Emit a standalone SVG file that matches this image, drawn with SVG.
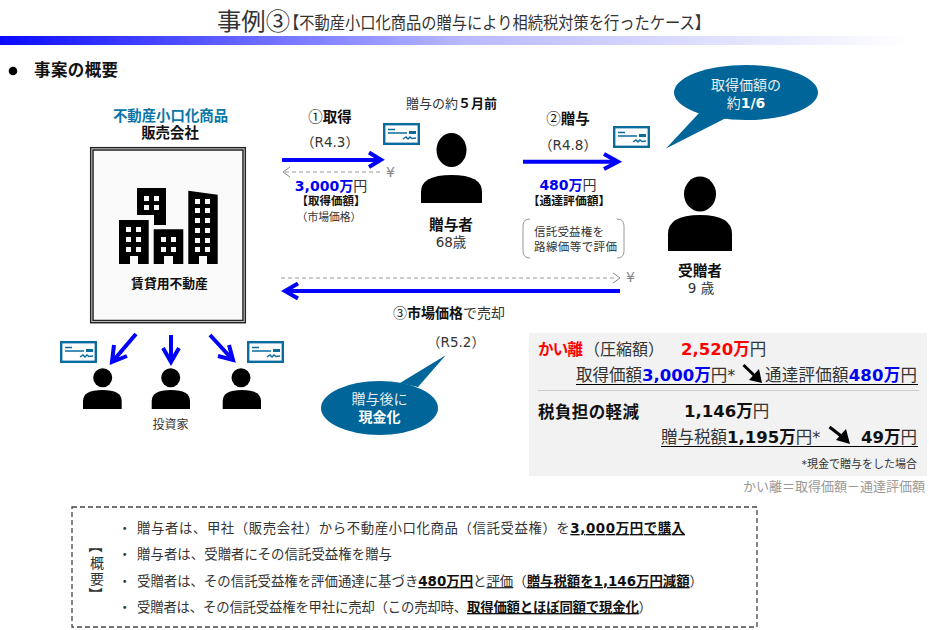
<svg xmlns="http://www.w3.org/2000/svg" xmlns:xlink="http://www.w3.org/1999/xlink" width="929" height="630" viewBox="0 0 929 630">
<style>
text{font-family:"DejaVu Sans","Noto Sans CJK JP",sans-serif;fill:#333;font-size:13px}
.cjk{font-family:"Noto Sans CJK JP",sans-serif}
.c{text-anchor:middle}.e{text-anchor:end}
.b{font-weight:700;fill:#111}
.blue{font-weight:700;fill:#0000f0}
.red{font-weight:700;fill:#f00}
.w{fill:#e8eef2;font-size:14px}
.wb{fill:#fff;font-weight:700;font-size:14px}
.u{text-decoration:underline}
.p{font-size:16.5px}
.arrow{fill:none;stroke:#0000ff;stroke-width:4}
.dash{fill:none;stroke:#999;stroke-width:1;stroke-dasharray:4 3}
.dashhead{fill:none;stroke:#888;stroke-width:1}
.blk{fill:none;stroke:#000;stroke-width:3}
.person{fill:#000}
.win{fill:#fafafa}
.yen{fill:#888;font-size:14px}
.s{font-size:13.4px}
.v{font-size:14px;text-anchor:middle;dominant-baseline:central}
</style>
<defs>
<linearGradient id="bar" x1="0" x2="1" y1="0" y2="0"><stop offset="0" stop-color="#0a0aff"/><stop offset="0.5" stop-color="#b9b9ff"/><stop offset="0.98" stop-color="#fff"/></linearGradient>
<g id="check">
<rect x="1.2" y="1.2" width="34.6" height="19.6" fill="#fff" stroke="#0a6b9e" stroke-width="2.4"/>
<path d="M5 6.500H12M5 10H24" stroke="#0a6b9e" stroke-width="1.3" fill="none"/>
<rect x="26" y="8" width="7" height="3" fill="#0a6b9e"/>
<path d="M20 16L23 14L25 16L27 14L29 15.500L33 15" stroke="#0a6b9e" stroke-width="1.5" fill="none"/>
</g>
</defs>
<g id="header">
<text class="cjk" x="217" y="30" style="font-size:24px" textLength="73" lengthAdjust="spacingAndGlyphs">事例③</text>
<text class="cjk" x="284" y="29" style="font-size:17px" textLength="426" lengthAdjust="spacingAndGlyphs">【不動産小口化商品の贈与により相続税対策を行ったケース】</text>
<rect x="0" y="36" width="929" height="9" fill="url(#bar)"/>
<circle cx="13" cy="71" r="4.3" fill="#000"/>
<text class="b" x="34" y="76" style="font-size:16.5px" textLength="84">事案の概要</text>
</g>
<g id="seller">
<text class="c" x="170.500" y="121" style="font-size:14.4px;font-weight:700;fill:#0a76a8">不動産小口化商品</text>
<text class="c b" x="170" y="138" style="font-size:14.4px">販売会社</text>
<rect x="90.700" y="147.700" width="154.600" height="175" fill="#fafafa" stroke="#222" stroke-width="1.5"/>
<rect x="93" y="150" width="150" height="170.500" fill="#fafafa" stroke="#222" stroke-width="1.5"/>
<path d="M137 188H166V225H154V215H137Z"/>
<path d="M119 220H148.700V264H138V256H130V264H119Z"/>
<path d="M153.700 229.300H183.300V264H173V256H164V264H153.700Z"/>
<path d="M188.300 190.700L217.700 194.700V264H207V256H199V264H188.300Z"/>
<path class="win" d="M144 196h5v5h-5zM154 196h5v5h-5zM144 205h5v5h-5zM154 205h5v5h-5zM126 227h5v5h-5zM136 227h5v5h-5zM126 237h5v5h-5zM136 237h5v5h-5zM126 247h5v5h-5zM136 247h5v5h-5zM161 237h5v5h-5zM171 237h5v5h-5zM161 247h5v5h-5zM171 247h5v5h-5zM195 199h5v5h-5zM205 199h5v5h-5zM195 208h5v5h-5zM205 208h5v5h-5zM195 218h5v5h-5zM205 218h5v5h-5zM195 228h5v5h-5zM205 228h5v5h-5zM195 238h5v5h-5zM205 238h5v5h-5zM195 247h5v5h-5zM205 247h5v5h-5z"/>
<text class="c b" x="169.500" y="288" style="font-size:12.800px">賃貸用不動産</text>
</g>
<g id="donor">
<text x="406" y="108" textLength="91" style="font-size:13px">贈与の約<tspan class="b">５月前</tspan></text>
<ellipse class="person" cx="451.500" cy="150" rx="15" ry="17"/>
<path class="person" d="M421 203V192Q421 175 451.500 175Q482 175 482 192V203Z"/>
<text class="c b" x="451" y="230" style="font-size:14.700px">贈与者</text>
<text class="c" x="451" y="247" style="font-size:13.500px">68歳</text>
</g>
<g id="recipient">
<ellipse class="person" cx="700" cy="194" rx="16" ry="17.500"/>
<path class="person" d="M668 251V234Q668 215 700 215Q732 215 732 234V251Z"/>
<text class="c b" x="700" y="276" style="font-size:14.700px">受贈者</text>
<text class="c" x="701" y="293" style="font-size:13.500px">9 歳</text>
</g>
<g id="investors">
<circle class="person" cx="102.700" cy="377.700" r="9.500"/><path class="person" d="M83 409V401Q83 390 102.500 390Q121.700 390 121.700 401V409Z"/>
<circle class="person" cx="170.700" cy="377.700" r="9.500"/><path class="person" d="M151.700 409V401Q151.700 390 171 390Q190 390 190 401V409Z"/>
<circle class="person" cx="241" cy="377.700" r="9.500"/><path class="person" d="M222.700 409V401Q222.700 390 242 390Q261 390 261 401V409Z"/>
<text class="c" x="170.500" y="429" style="font-size:12px">投資家</text>
</g>
<g id="checks">
<use xlink:href="#check" href="#check" x="383" y="123"/>
<use xlink:href="#check" href="#check" x="613" y="126"/>
<use xlink:href="#check" href="#check" x="60" y="341"/>
<use xlink:href="#check" href="#check" x="247" y="341"/>
</g>
<g id="acquire-label">
<text class="c b" x="330" y="122" style="font-size:14.500px"><tspan class="cjk" style="font-weight:400">①</tspan>取得</text>
<text class="c" x="330" y="147" style="font-size:13.500px">（R4.3）</text>
<text class="c" x="331" y="191" style="font-size:14px"><tspan class="blue">3,000万</tspan>円</text>
<text class="c b" x="331" y="205" style="font-size:11.500px">【取得価額】</text>
<text class="c" x="329" y="221" style="font-size:10.800px">（市場価格）</text>
</g>
<g id="gift-label">
<text class="c b" x="568" y="124" style="font-size:14.500px"><tspan class="cjk" style="font-weight:400">②</tspan>贈与</text>
<text class="c" x="568" y="150" style="font-size:13.500px">（R4.8）</text>
<text class="c" x="568" y="190" style="font-size:14px"><tspan class="blue">480万</tspan>円</text>
<text class="c b" x="569" y="205" style="font-size:11.800px">【通達評価額】</text>
<path d="M530 219Q523 219 523 226V251Q523 258 530 258M617 219Q624 219 624 226V251Q624 258 617 258" fill="none" stroke="#999" stroke-width="1"/>
<text x="534" y="236" style="font-size:11.500px" textLength="70">信託受益権を</text>
<text x="534" y="251" style="font-size:11.500px" textLength="83">路線価等で評価</text>
</g>
<g id="sale-label">
<text x="393" y="318" textLength="112" style="font-size:14px"><tspan class="cjk">③</tspan><tspan class="b">市場価格</tspan>で売却</text>
<text class="c" x="456" y="347" style="font-size:13.500px">（R5.2）</text>
</g>
<g id="callout-1-6">
<ellipse cx="746" cy="92.500" rx="72" ry="27.500" fill="#006699"/>
<path d="M700 112L666 148.500L726 118Z" fill="#006699"/>
<text class="c w" x="746" y="90">取得価額の</text>
<text class="c w" x="746" y="108">約<tspan class="wb">1/6</tspan></text>
</g>
<g id="callout-cash">
<ellipse cx="379.500" cy="408" rx="58.500" ry="27" fill="#006699"/>
<path d="M400 383L445.700 355.300L418 387Z" fill="#006699"/>
<text class="c w" x="379.500" y="404">贈与後に</text>
<text class="c wb" x="379.500" y="422">現金化</text>
</g>
<g id="result-panel">
<rect x="529" y="333" width="398" height="143" fill="#f2f2f2"/>
<text class="red" x="538" y="355" style="font-size:15.500px" textLength="45">かい離</text>
<text class="p" x="584" y="355" style="font-size:16px">（圧縮額）</text>
<text class="p" x="681" y="355"><tspan class="red">2,520万</tspan>円</text>
<text class="p" x="576" y="381">取得価額<tspan class="blue">3,000万</tspan>円<tspan style="font-size:16px">*</tspan></text>
<text class="p" x="765" y="381" textLength="152">通達評価額<tspan class="blue">480万</tspan>円</text>
<path d="M576 384.500H918" stroke="#000" stroke-width="1"/>
<path d="M538 390.500H919" stroke="#ccc" stroke-width="1"/>
<text class="b p" x="538" y="418" textLength="101">税負担の軽減</text>
<text class="p" x="684" y="417"><tspan class="b">1,146万</tspan>円</text>
<text class="p" x="661" y="443">贈与税額<tspan class="b">1,195万</tspan>円<tspan style="font-size:16px">*</tspan></text>
<text class="p e" x="917" y="443"><tspan class="b">49万</tspan>円</text>
<path d="M661 446.500H918" stroke="#000" stroke-width="1"/>
<text class="e" x="917" y="468" style="font-size:11px">*現金で贈与をした場合</text>
<text class="e" x="925" y="491" style="font-size:13px;fill:#999">かい離＝取得価額－通達評価額</text>
</g>
<g id="connectors">
<path class="arrow" d="M282 160H380M369 152.500L381 159.700L369 167"/>
<path class="arrow" d="M523 161.700H617M604 154L618 161.700L604 169"/>
<path class="arrow" d="M620 291H286M298 283.500L285 291L298 298.500"/>
<path class="arrow" d="M136 334L113 361M114 345L112 362L127 356"/>
<path class="arrow" d="M171 335V361M163 348L171 362L179 348"/>
<path class="arrow" d="M210 335L232 359M218 356L233 360L229 345"/>
<path class="dash" d="M285 172H380"/><path class="dashhead" d="M290 167L283 172L290 177"/>
<path class="dash" d="M281 278H617"/><path class="dashhead" d="M613 273L620 278L613 283"/>
<text class="yen" x="386" y="177">¥</text>
<text class="yen" x="626" y="282">¥</text>
<path class="blk" d="M743.500 365L758 379"/><path d="M762 383L749 380L759 369Z"/>
<path class="blk" d="M829.500 427L845 439"/><path d="M850 444L836 440L846 429Z"/>
</g>
<g id="summary">
<rect x="72" y="507" width="685" height="120" fill="#fff" stroke="#444" stroke-width="1.300" stroke-dasharray="5 3"/>
<text class="cjk v" transform="translate(97 546) rotate(90)">【</text>
<text class="cjk v" x="97" y="562">概</text>
<text class="cjk v" x="97" y="578">要</text>
<text class="cjk v" transform="translate(97 594) rotate(90)">】</text>
<text x="118" y="533" class="s">・</text><text class="s" x="137" y="533" textLength="548">贈与者は、甲社（販売会社）から不動産小口化商品（信託受益権）を<tspan class="b u">3,000万円で購入</tspan></text>
<text x="118" y="559" class="s">・</text><text class="s" x="137" y="559" textLength="255">贈与者は、受贈者にその信託受益権を贈与</text>
<text x="118" y="586" class="s">・</text><text class="s" x="137" y="586" textLength="566">受贈者は、その信託受益権を評価通達に基づき<tspan class="b u">480万円</tspan>と<tspan class="u">評価</tspan>（<tspan class="b u">贈与税額を1,146万円減額</tspan>）</text>
<text x="118" y="612" class="s">・</text><text class="s" x="137" y="612" textLength="515">受贈者は、その信託受益権を甲社に売却（この売却時、<tspan class="b u">取得価額とほぼ同額で現金化</tspan>）</text>
</g>
</svg>
